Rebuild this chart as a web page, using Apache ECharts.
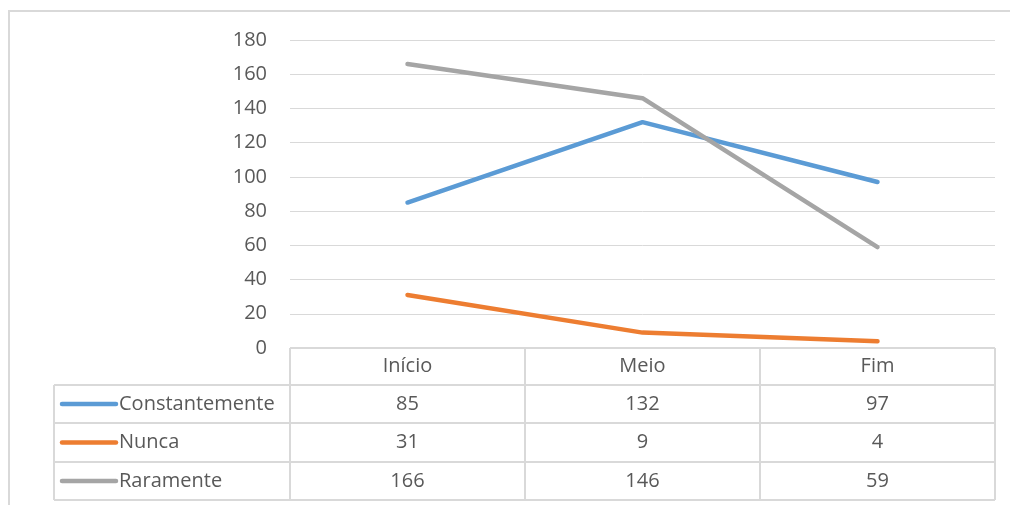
<!DOCTYPE html>
<html><head><meta charset="utf-8">
<script src="https://cdn.jsdelivr.net/npm/echarts@6/dist/echarts.min.js"></script>
<style>html,body{margin:0;padding:0;background:#fff;overflow:hidden}#c{width:1010px;height:505px}</style>
</head><body><div id="c"></div>
<script>
const categories = ['Início', 'Meio', 'Fim'];
const constantemente = [85, 132, 97];
const nunca = [31, 9, 4];
const raramente = [166, 146, 59];
const seriesNames = ['Constantemente', 'Nunca', 'Raramente'];
const seriesData = [constantemente, nunca, raramente];
const colors = ['#5B9BD5', '#ED7D31', '#A5A5A5'];

const FONT = '"Open Sans", "Noto Sans", sans-serif';
const FS = 20;
const TXT = '#595959';
const LINE = '#D9D9D9';

const chart = echarts.init(document.getElementById('c'), null, {renderer: 'canvas'});
const baseOption = {
  animation: false,
  backgroundColor: '#fff',
  textStyle: {fontFamily: FONT},
  grid: {left: 290, right: 15, top: 40, bottom: 157, containLabel: false},
  xAxis: {
    type: 'category', data: categories, boundaryGap: true,
    axisLine: {show: false}, axisTick: {show: false},
    axisLabel: {color: TXT, fontSize: FS, fontFamily: FONT, margin: 8}
  },
  yAxis: {
    type: 'value', min: 0, max: 180, interval: 20,
    axisLine: {show: false}, axisTick: {show: false},
    axisLabel: {color: TXT, fontSize: FS, fontFamily: FONT, margin: 23},
    splitLine: {lineStyle: {color: LINE, width: 1}}
  },
  series: seriesNames.map((n, i) => ({
    name: n, type: 'line', data: seriesData[i], symbol: 'none',
    lineStyle: {color: colors[i], width: 4.5, cap: 'round', join: 'round'},
    itemStyle: {color: colors[i]}
  }))
};
chart.setOption(baseOption);

// Build data table from the arrays using the chart's own scales
const n = categories.length;
const centers = categories.map((c, i) => chart.convertToPixel({xAxisIndex: 0}, i));
const band = centers.length > 1 ? centers[1] - centers[0] : 235;
const plotLeft = centers[0] - band / 2;
const plotRight = centers[n - 1] + band / 2;
const tableTop = chart.convertToPixel({yAxisIndex: 0}, 0);
const rowTops = [tableTop, tableTop + 37, tableTop + 75, tableTop + 114, tableTop + 152];
const tableLeft = 54;

const g = [];
function hline(x1, x2, y) { g.push({type: 'line', shape: {x1: x1, y1: y, x2: x2, y2: y}, style: {stroke: LINE, lineWidth: 2}, silent: true}); }
function vline(x, y1, y2) { g.push({type: 'line', shape: {x1: x, y1: y1, x2: x, y2: y2}, style: {stroke: LINE, lineWidth: 2}, silent: true}); }

// outer chart border (top and left visible)
hline(8, 1010, 11);
vline(9, 10, 505);

hline(plotLeft, plotRight, rowTops[0]);
for (let r = 1; r < rowTops.length; r++) hline(tableLeft, plotRight, rowTops[r]);
vline(tableLeft, rowTops[1], rowTops[4]);
for (let i = 0; i <= n; i++) vline(plotLeft + i * band, rowTops[0], rowTops[4]);

seriesNames.forEach((name, s) => {
  const yc = (rowTops[s + 1] + rowTops[s + 2]) / 2;
  g.push({type: 'line', shape: {x1: 62, y1: yc, x2: 116, y2: yc}, style: {stroke: colors[s], lineWidth: 4.5, lineCap: 'round'}, silent: true});
  g.push({type: 'text', x: 119, y: yc, style: {text: name, fill: TXT, font: FS + 'px ' + FONT, textAlign: 'left', textVerticalAlign: 'middle'}, silent: true});
  seriesData[s].forEach((v, i) => {
    g.push({type: 'text', x: centers[i], y: yc, style: {text: String(v), fill: TXT, font: FS + 'px ' + FONT, textAlign: 'center', textVerticalAlign: 'middle'}, silent: true});
  });
});

chart.setOption({graphic: g});
</script>
</body></html>
